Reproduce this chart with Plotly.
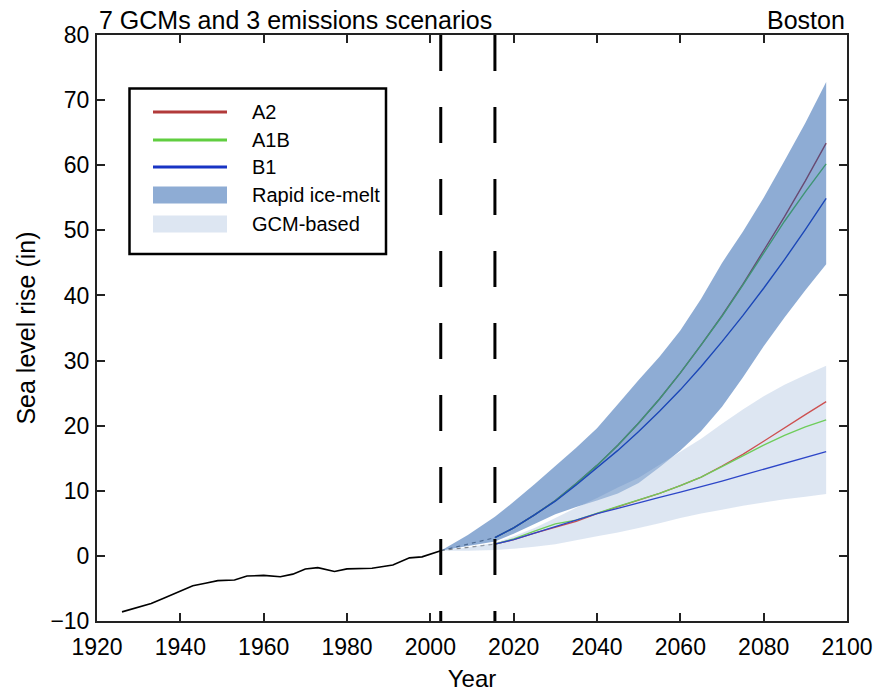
import plotly.graph_objects as go

# ---- observed record (inches) ----
HIST_YEARS = [1926, 1929, 1933, 1936, 1940, 1943, 1946, 1949, 1953, 1956, 1960,
              1964, 1967, 1970, 1973, 1977, 1980, 1983, 1986, 1991, 1995, 1998, 2002.5]
HIST_VALUES = [-8.6, -8.0, -7.3, -6.5, -5.4, -4.6, -4.2, -3.8, -3.7, -3.1, -3.0,
               -3.2, -2.8, -2.0, -1.8, -2.4, -2.0, -1.9, -1.9, -1.4, -0.3, -0.15, 0.8]

# ---- period boundaries (dashed verticals) ----
DIVIDER_YEARS = [2002.5, 2015.5]

# ---- bridging segments between the two boundaries ----
BRIDGE_YEARS = [2002.5, 2015.5]
BRIDGE_RAPID = [0.8, 2.8]
BRIDGE_GCM = [0.8, 1.8]

# ---- projection envelopes ----
BAND_YEARS = [2002.5, 2009, 2015.5, 2020, 2025, 2030, 2035, 2040, 2045, 2050,
              2055, 2060, 2065, 2070, 2075, 2080, 2085, 2090, 2095]
RAPID_UPPER = [0.8, 3.2, 6.0, 8.3, 11.0, 13.8, 16.6, 19.6, 23.3, 27.0,
               30.6, 34.6, 39.5, 45.0, 49.8, 55.0, 60.7, 66.5, 72.8]
RAPID_LOWER = [0.8, 1.5, 2.2, 3.4, 4.9, 6.4, 7.5, 8.5, 9.6, 11.2,
               13.6, 16.2, 19.2, 22.9, 27.4, 32.2, 36.6, 40.8, 44.8]
GCM_UPPER = [0.8, 1.3, 2.0, 3.0, 4.3, 5.8, 7.4, 8.9, 10.5, 12.0,
             14.0, 16.0, 18.0, 20.3, 22.5, 24.5, 26.3, 27.8, 29.2]
GCM_LOWER = [0.8, 0.8, 0.9, 1.1, 1.4, 1.8, 2.4, 3.0, 3.6, 4.3,
             5.0, 5.8, 6.5, 7.1, 7.7, 8.2, 8.7, 9.1, 9.5]

# ---- scenario means ----
PROJ_YEARS = [2015.5, 2020, 2025, 2030, 2035, 2040, 2045, 2050, 2055,
              2060, 2065, 2070, 2075, 2080, 2085, 2090, 2095]
RAPID_A2 = [2.8, 4.3, 6.3, 8.5, 11.1, 13.9, 17.0, 20.4, 24.1,
            28.1, 32.4, 36.9, 41.7, 46.8, 52.1, 57.6, 63.4]
RAPID_A1B = [2.8, 4.3, 6.3, 8.5, 11.1, 13.9, 17.0, 20.4, 24.1,
             28.1, 32.4, 36.8, 41.6, 46.5, 51.4, 55.9, 60.2]
RAPID_B1 = [2.8, 4.3, 6.3, 8.4, 10.9, 13.5, 16.2, 19.1, 22.2,
            25.5, 29.1, 32.9, 36.9, 41.1, 45.5, 50.1, 54.9]
GCM_A2 = [1.8, 2.5, 3.5, 4.4, 5.3, 6.5, 7.5, 8.6, 9.6,
          10.8, 12.1, 13.8, 15.6, 17.6, 19.7, 21.7, 23.7]
GCM_A1B = [1.8, 2.6, 3.8, 4.9, 5.5, 6.6, 7.6, 8.6, 9.6,
           10.8, 12.1, 13.7, 15.4, 17.0, 18.5, 19.8, 20.9]
GCM_B1 = [1.8, 2.5, 3.5, 4.5, 5.6, 6.5, 7.3, 8.2, 9.0,
          9.8, 10.6, 11.5, 12.4, 13.3, 14.2, 15.1, 16.0]

SCENARIOS = ["A2", "A1B", "B1"]
BAND_NAMES = ["Rapid ice-melt", "GCM-based"]

# ---- styling ----
FONT = "Liberation Sans, Arial, Helvetica, sans-serif"
COLORS = {"A2": "rgb(178,58,58)", "A1B": "rgb(96,206,64)", "B1": "rgb(24,52,196)"}
GCM_LINE_COLORS = {"A2": "rgb(205,80,80)", "A1B": "rgb(110,205,90)", "B1": "rgb(45,70,200)"}
RAPID_FILL = "rgba(30,90,170,0.5)"
GCM_FILL = "rgba(184,203,228,0.48)"

W, H = 877, 692
ML, MR, MT, MB = 97, 30, 35, 71


def px(x):
    return (x - ML) / (W - ML - MR)


def py(y):
    return (H - MB - y) / (H - MT - MB)


fig = go.Figure()

# observed record
fig.add_trace(go.Scatter(x=HIST_YEARS, y=HIST_VALUES, mode="lines",
                         line=dict(color="black", width=1.6),
                         showlegend=False, hoverinfo="skip"))

# bridging dashed segments
for vals in (BRIDGE_RAPID, BRIDGE_GCM):
    fig.add_trace(go.Scatter(x=BRIDGE_YEARS, y=vals, mode="lines",
                             line=dict(color="rgb(120,120,120)", width=1.2, dash="4px,4px"),
                             showlegend=False, hoverinfo="skip"))

# rapid ice-melt means, then the translucent envelope over them
for name, vals in zip(SCENARIOS, (RAPID_A2, RAPID_A1B, RAPID_B1)):
    fig.add_trace(go.Scatter(x=PROJ_YEARS, y=vals, mode="lines",
                             line=dict(color=COLORS[name], width=1.4),
                             showlegend=False, hoverinfo="skip"))

fig.add_trace(go.Scatter(x=BAND_YEARS + BAND_YEARS[::-1],
                         y=RAPID_UPPER + RAPID_LOWER[::-1],
                         fill="toself", fillcolor=RAPID_FILL, mode="none",
                         showlegend=False, hoverinfo="skip"))

# GCM-based envelope, with its means drawn on top
fig.add_trace(go.Scatter(x=BAND_YEARS + BAND_YEARS[::-1],
                         y=GCM_UPPER + GCM_LOWER[::-1],
                         fill="toself", fillcolor=GCM_FILL, mode="none",
                         showlegend=False, hoverinfo="skip"))

for name, vals in zip(SCENARIOS, (GCM_A2, GCM_A1B, GCM_B1)):
    fig.add_trace(go.Scatter(x=PROJ_YEARS, y=vals, mode="lines",
                             line=dict(color=GCM_LINE_COLORS[name], width=1.3),
                             showlegend=False, hoverinfo="skip"))

shapes = []
for yr in DIVIDER_YEARS:
    shapes.append(dict(type="line", xref="x", yref="paper", x0=yr, x1=yr, y0=1, y1=0,
                       line=dict(color="black", width=3, dash="36px,36px")))

# legend box
shapes.append(dict(type="rect", xref="paper", yref="paper",
                   x0=px(129.5), x1=px(386), y0=py(254), y1=py(88.5),
                   line=dict(color="black", width=2.5), fillcolor="white"))

annotations = []
rows = [112, 140, 167, 195, 224]
for row, name in zip(rows[:3], SCENARIOS):
    shapes.append(dict(type="line", xref="paper", yref="paper",
                       x0=px(153), x1=px(227), y0=py(row), y1=py(row),
                       line=dict(color=COLORS[name], width=3)))
for row, name, fill in zip(rows[3:], BAND_NAMES, (RAPID_FILL, GCM_FILL)):
    shapes.append(dict(type="rect", xref="paper", yref="paper",
                       x0=px(153), x1=px(227), y0=py(row + 8.5), y1=py(row - 8.5),
                       line=dict(width=0), fillcolor=fill))
for row, label in zip(rows, SCENARIOS + BAND_NAMES):
    annotations.append(dict(xref="paper", yref="paper", x=px(250), y=py(row),
                            xanchor="left", yanchor="middle", text=label, showarrow=False,
                            font=dict(family=FONT, size=20, color="black")))

annotations.append(dict(xref="paper", yref="paper", x=0, y=1, xanchor="left",
                        yanchor="bottom", yshift=-1, text="7 GCMs and 3 emissions scenarios",
                        showarrow=False, font=dict(family=FONT, size=25, color="black")))
annotations.append(dict(xref="paper", yref="paper", x=1, y=1, xanchor="right",
                        yanchor="bottom", yshift=-1, text="Boston",
                        showarrow=False, font=dict(family=FONT, size=25, color="black")))

axis_common = dict(showgrid=False, zeroline=False, showline=True, linecolor="#222",
                   linewidth=2, mirror="ticks", ticks="inside", ticklen=8,
                   tickwidth=1.5, tickcolor="#222", automargin=False,
                   tickfont=dict(family=FONT, size=23, color="black"))

fig.update_layout(
    width=W, height=H,
    margin=dict(l=ML, r=MR, t=MT, b=MB),
    paper_bgcolor="white", plot_bgcolor="white",
    showlegend=False,
    shapes=shapes, annotations=annotations,
    xaxis=dict(range=[1920, 2100], dtick=20, tick0=1920, ticklabelstandoff=4,
               title=dict(text="Year", font=dict(family=FONT, size=24, color="black"), standoff=16),
               **axis_common),
    yaxis=dict(range=[-10, 80], dtick=10, tick0=-10, ticklabelstandoff=1,
               title=dict(text="Sea level rise (in)", font=dict(family=FONT, size=25, color="black"),
                          standoff=8),
               **axis_common),
)

fig.write_html("out.html")
